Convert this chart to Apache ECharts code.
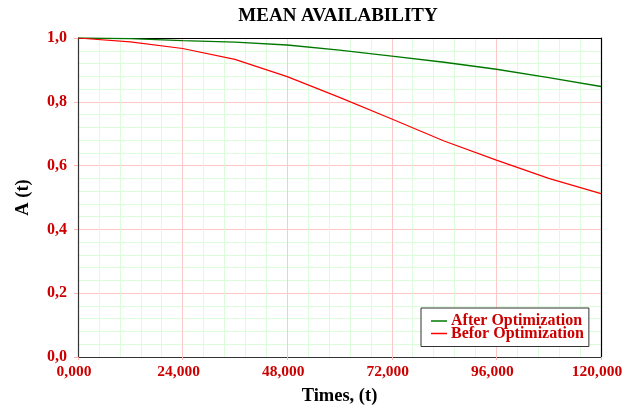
<!DOCTYPE html>
<html>
<head>
<meta charset="utf-8">
<script src="https://cdn.jsdelivr.net/npm/echarts@6/dist/echarts.min.js"></script>
<style>html,body{margin:0;padding:0;background:#fff;}#c{width:640px;height:409px;}</style>
</head>
<body>
<div id="c"></div>
<script>
var times = [0, 12000, 24000, 36000, 48000, 60000, 72000, 84000, 96000, 108000, 120000];
var afterOpt = [1.000, 0.998, 0.992, 0.987, 0.978, 0.962, 0.943, 0.924, 0.902, 0.876, 0.848];
var beforeOpt = [1.000, 0.988, 0.967, 0.933, 0.879, 0.814, 0.746, 0.677, 0.617, 0.560, 0.512];
var xTickLabels = ['0,000', '24,000', '48,000', '72,000', '96,000', '120,000'];
var yTickLabels = ['0,0', '0,2', '0,4', '0,6', '0,8', '1,0'];
var seriesNames = ['After Optimization', 'Befor Optimization'];

var FONT = '"Liberation Serif", "Times New Roman", serif';
var chart = echarts.init(document.getElementById('c'), null, {renderer: 'canvas'});
function pairs(ys) { return times.map(function (t, i) { return [t, ys[i]]; }); }
chart.setOption({
  animation: false,
  backgroundColor: '#ffffff',
  title: {
    text: 'MEAN AVAILABILITY',
    left: 333, top: 2, textAlign: 'center',
    textStyle: {fontFamily: FONT, fontWeight: 'bold', fontSize: 19, color: '#000'}
  },
  grid: {left: 78, right: 39, top: 38, bottom: 52, outerBoundsMode: 'none', containLabel: false},
  legend: {
    orient: 'vertical',
    left: 421, top: 308,
    padding: [5, 5, 5, 10],
    itemWidth: 16, itemHeight: 1.5, itemGap: -3.5,
    icon: 'rect',
    borderColor: '#333', borderWidth: 1, backgroundColor: '#fff',
    textStyle: {fontFamily: FONT, fontWeight: 'bold', fontSize: 16, color: '#cc0000', lineHeight: 13, padding: [0, 0, 0, -1]},
    data: seriesNames
  },
  xAxis: [{
    type: 'value', min: 0, max: 120000, interval: 24000,
    name: 'Times, (t)', nameLocation: 'middle', nameGap: 30,
    nameTextStyle: {fontFamily: FONT, fontWeight: 'bold', fontSize: 18.5, color: '#000'},
    axisLine: {show: true, onZero: false, lineStyle: {color: '#333', width: 1.2}},
    axisTick: {show: true, length: 3, lineStyle: {color: '#ffb0b0'}},
    minorTick: {show: false, splitNumber: 5},
    axisLabel: {
      fontFamily: FONT, fontWeight: 'bold', fontSize: 15.5, color: '#cc0000', margin: 7,
      padding: [0, 8, 0, 0],
      formatter: function (v) { return xTickLabels[Math.round(v / 24000)]; }
    },
    splitLine: {show: true, lineStyle: {color: '#ffc8c8', width: 1}},
    minorSplitLine: {show: true, lineStyle: {color: '#dcfcdc', width: 1}}
  }, {
    type: 'value', position: 'top', min: 0, max: 120000, interval: 24000,
    axisLine: {show: true, onZero: false, lineStyle: {color: '#000', width: 1.2}},
    axisTick: {show: false}, axisLabel: {show: false}, splitLine: {show: false}
  }],
  yAxis: [{
    type: 'value', min: 0, max: 1, interval: 0.2,
    name: 'A (t)', nameLocation: 'middle', nameGap: 45,
    nameTextStyle: {fontFamily: FONT, fontWeight: 'bold', fontSize: 18.5, color: '#000'},
    axisLine: {show: true, onZero: false, lineStyle: {color: '#333', width: 1.2}},
    axisTick: {show: true, length: 4, lineStyle: {color: '#ffb0b0'}},
    minorTick: {show: false, splitNumber: 5},
    axisLabel: {
      fontFamily: FONT, fontWeight: 'bold', fontSize: 16, color: '#cc0000', margin: 11,
      formatter: function (v) { return yTickLabels[Math.round(v / 0.2)]; }
    },
    splitLine: {show: true, lineStyle: {color: '#ffc8c8', width: 1}},
    minorSplitLine: {show: true, lineStyle: {color: '#dcfcdc', width: 1}}
  }, {
    type: 'value', position: 'right', min: 0, max: 1, interval: 0.2,
    axisLine: {show: true, onZero: false, lineStyle: {color: '#000', width: 1.2}},
    axisTick: {show: false}, axisLabel: {show: false}, splitLine: {show: false}
  }],
  series: [
    {
      name: seriesNames[0], type: 'line', data: pairs(afterOpt),
      symbol: 'none', z: 3,
      lineStyle: {color: '#007800', width: 1.3},
      itemStyle: {color: '#007800'}
    },
    {
      name: seriesNames[1], type: 'line', data: pairs(beforeOpt),
      symbol: 'none', z: 4,
      lineStyle: {color: '#ff0000', width: 1.2},
      itemStyle: {color: '#ff0000'}
    }
  ]
});
</script>
</body>
</html>
